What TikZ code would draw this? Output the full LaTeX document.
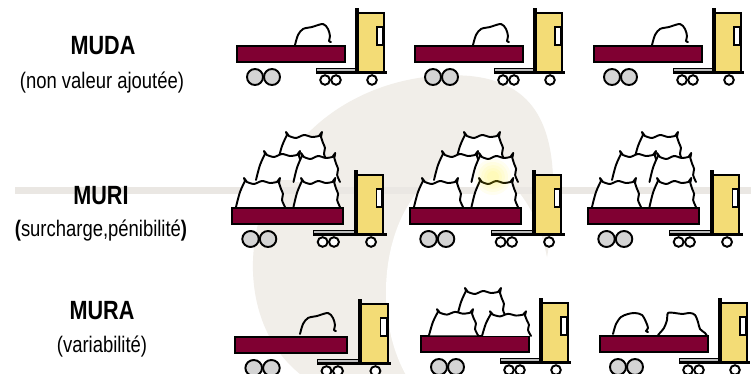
\documentclass[tikz,border=0pt]{standalone}
\usepackage{fontspec}
\setmainfont{Liberation Sans}
\usepackage{graphicx}
\usetikzlibrary{positioning}

\definecolor{bordeaux}{RGB}{128,0,50}
\definecolor{cabyellow}{RGB}{243,220,118}
\definecolor{wheelgray}{RGB}{212,212,212}
\definecolor{chassisgray}{RGB}{190,190,190}
\definecolor{wmark}{RGB}{241,238,233}
\definecolor{band}{RGB}{234,231,227}

% one sack: left side, top edge, right side (open at the bottom)
\newcommand{\sackpath}{plot[smooth] coordinates {(-9,27) (-7,19) (-5,12) (-2,5) (0,1)} -- (-1,-2)
  -- plot[smooth] coordinates {(2,2) (9,4) (17,1) (25,3) (32,2)} -- (35,-2)
  -- plot[smooth] coordinates {(34,3) (36,9) (38,14) (37,20) (40,27)}}

\tikzset{
  outline/.style={draw=black, line width=1.1pt},
  load/.style={draw=black, line width=1.1pt, line cap=round, line join=round},
  title/.style={font=\fontsize{12.3}{14}\selectfont\bfseries, inner sep=0pt},
  subtitle/.style={font=\fontsize{10.5}{12}\selectfont, inner sep=0pt},
  truck/.pic={
    \fill[black] (79,25) rectangle (150,28);
    \filldraw[fill=chassisgray, draw=black, line width=0.5pt] (79,22) rectangle (120,25);
    \filldraw[outline, fill=bordeaux] (0,0) rectangle (108,16);
    \fill[black] (118,-38) rectangle (122,27);
    \filldraw[outline, fill=cabyellow] (121,-33) rectangle (147,26);
    \filldraw[outline, fill=white, line width=0.8pt] (140,-19) rectangle (145.5,-1);
    \foreach \wx in {18,35}
      \filldraw[outline, fill=wheelgray] (\wx,31) circle (8);
    \foreach \wx in {88,99,135}
      \filldraw[outline, fill=white] (\wx,34) circle (4.8);
  },
  squiggle/.pic={
    \draw[load] plot[smooth] coordinates {(58,-1) (61,-11) (66,-17) (75,-19) (86,-22)
      (91,-17) (93,-10) (92,-5) (94,-4)};
  },
  lumps/.pic={
    \draw[load] plot[smooth] coordinates {(13,-2) (16,-12) (21,-19) (28,-22) (35,-23)
      (42,-21) (46,-14) (48,-8) (46,-5) (48,-4)};
    \draw[load] plot[smooth] coordinates {(58,-1) (64,-8) (67,-16) (68,-23) (75,-23)
      (82,-22) (90,-23) (95,-21) (98,-14) (100,-7) (105,-3) (107,0)};
  },
  sack/.pic={
    \fill[white] \sackpath -- cycle;
    \draw[load] \sackpath;
  },
  fullpile/.pic={
    \pic at (55,-74) {sack};
    \pic at (33,-55) {sack};
    \pic[xscale=0.95] at (70,-53) {sack};
    \pic at (13,-28) {sack};
    \pic[xscale=0.95] at (70,-28) {sack};
  },
  smallpile/.pic={
    \pic at (45,-46) {sack};
    \pic[yscale=0.9] at (17,-25) {sack};
    \pic[yscale=0.85] at (70,-23) {sack};
  },
}

\begin{document}
\begin{tikzpicture}[x=0.02cm, y=-0.02cm]
  \useasboundingbox (0,0) rectangle (751,374);
  \fill[white] (0,0) rectangle (751,374);

  % faint logo and band behind everything
  \fill[wmark] (300,374) .. controls (245,330) and (238,240) .. (280,170)
    .. controls (320,100) and (400,70) .. (470,76)
    .. controls (530,82) and (556,120) .. (553,200)
    .. controls (550,260) and (540,300) .. (520,340) -- (520,374) -- cycle;
  \fill[white] (468,292) ellipse [x radius=82, y radius=127];
  \fill[band] (15,187) rectangle (751,194);

  % MUDA: nearly empty loads
  \foreach \tx [count=\i] in {237,415,594} {
    \pic (mudatruck\i) at (\tx,46) {truck};
    \pic (mudaload\i) at (\tx,46) {squiggle};
  }

  % MURI: overloaded
  \foreach \tx [count=\i] in {232,410,588} {
    \pic[xscale=1.03] (muritruck\i) at (\tx,208) {truck};
    \pic (muriload\i) at (\tx,208) {fullpile};
  }
  \foreach \r in {6,9,...,18}
    \fill[yellow, fill opacity=0.06] (493,177) circle (\r);

  % MURA: uneven loads
  \pic[xscale=1.04] (muratruck1) at (235,337) {truck};
  \pic (muraload1) at (242,335) {squiggle};
  \pic (muratruck2) at (421,336) {truck};
  \pic (muraload2) at (421,336) {smallpile};
  \pic (muratruck3) at (600,336) {truck};
  \pic (muraload3) at (600,336) {lumps};

  \node[title] (muda) at (103,46) {\scalebox{1}[1.22]{MUDA}};
  \node[subtitle] (mudatxt) at (102,83) {\scalebox{1}[1.22]{(non valeur ajoutée)}};
  \node[title] (muri) at (101,196) {\scalebox{1}[1.22]{MURI}};
  \node[subtitle] (muritxt) at (101,231)
    {\scalebox{1}[1.22]{\textbf{(}surcharge,pénibilité\textbf{)}}};
  \node[title] (mura) at (102,311) {\scalebox{1}[1.22]{MURA}};
  \node[subtitle] (muratxt) at (102,347) {\scalebox{1}[1.22]{(variabilité)}};
\end{tikzpicture}
\end{document}
